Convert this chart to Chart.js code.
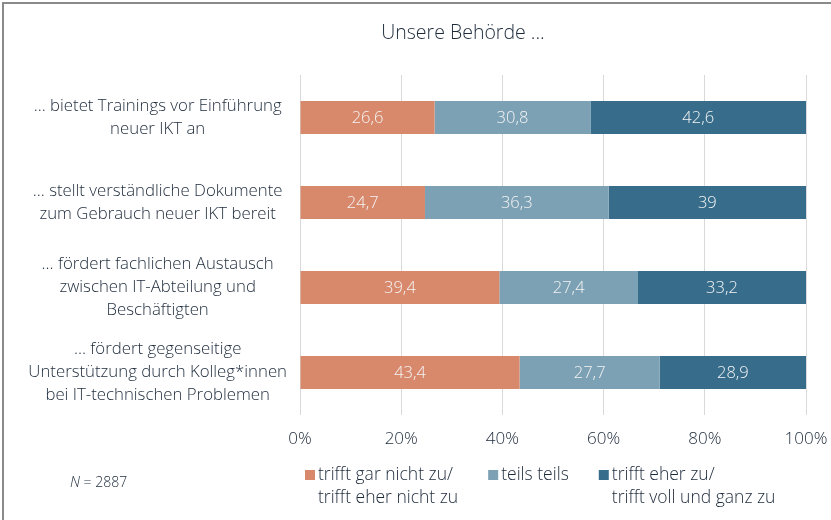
<!DOCTYPE html>
<html>
<head>
<meta charset="utf-8">
<script src="https://cdn.jsdelivr.net/npm/chart.js@4.4.1/dist/chart.umd.min.js"></script>
<style>
  html, body { margin: 0; padding: 0; background: #fff; }
  #wrap { width: 831px; height: 520px; }
</style>
</head>
<body>
<div id="wrap"><canvas id="barChart" width="831" height="520"></canvas></div>
<script>
// --- data ---
const categories = [
  ['… bietet Trainings vor Einführung', 'neuer IKT an'],
  ['… stellt verständliche Dokumente', 'zum Gebrauch neuer IKT bereit'],
  ['… fördert fachlichen Austausch', 'zwischen IT-Abteilung und', 'Beschäftigten'],
  ['… fördert gegenseitige', 'Unterstützung durch Kolleg*innen', 'bei IT-technischen Problemen']
];
const seriesNames = [
  ['trifft gar nicht zu/', 'trifft eher nicht zu'],
  ['teils teils'],
  ['trifft eher zu/', 'trifft voll und ganz zu']
];
const disagreeValues = [26.6, 24.7, 39.4, 43.4];
const neutralValues = [30.8, 36.3, 27.4, 27.7];
const agreeValues = [42.6, 39, 33.2, 28.9];
const tickValues = [0, 20, 40, 60, 80, 100];
const chartTitle = 'Unsere Behörde ...';
const sampleSize = 2887;

const FONT = '"Open Sans", sans-serif';
const TEXT = '#1c2a3a';
const colors = ['#D8896C', '#7CA1B4', '#376D8B'];

const commaNum = v => String(v).replace('.', ',');

// frame + title + note
const decorPlugin = {
  id: 'decor',
  beforeDraw(chart) {
    const ctx = chart.ctx;
    ctx.save();
    ctx.fillStyle = '#fff';
    ctx.fillRect(0, 0, chart.width, chart.height);
    ctx.strokeStyle = '#8a8a8a';
    ctx.lineWidth = 2;
    ctx.beginPath();
    ctx.moveTo(3, chart.height);
    ctx.lineTo(3, 3);
    ctx.lineTo(chart.width, 3);
    ctx.stroke();
    ctx.restore();
  },
  afterDraw(chart) {
    const ctx = chart.ctx;
    ctx.save();
    ctx.fillStyle = TEXT;
    ctx.textBaseline = 'middle';
    ctx.textAlign = 'center';
    ctx.font = '300 19.5px ' + FONT;
    ctx.fillText(chartTitle, 463, 33);

    // N = 2887
    ctx.textAlign = 'left';
    ctx.font = 'italic 300 14.5px ' + FONT;
    ctx.fillText('N', 70, 483);
    const nw = ctx.measureText('N').width;
    ctx.font = '300 14px ' + FONT;
    ctx.fillText(' = ' + sampleSize, 70 + nw, 483);
    ctx.restore();
  }
};

// value labels inside the segments
const valueLabelPlugin = {
  id: 'valueLabels',
  afterDatasetsDraw(chart) {
    const ctx = chart.ctx;
    ctx.save();
    ctx.fillStyle = '#f4f4f4';
    ctx.font = '300 16.5px ' + FONT;
    ctx.textAlign = 'center';
    ctx.textBaseline = 'middle';
    chart.data.datasets.forEach((ds, i) => {
      const meta = chart.getDatasetMeta(i);
      meta.data.forEach((bar, j) => {
        const cx = (bar.x + bar.base) / 2;
        ctx.fillText(commaNum(ds.data[j]), cx, bar.y + 1);
      });
    });
    ctx.restore();
  }
};

// multi-line legend below the axis
const legendPlugin = {
  id: 'multiLegend',
  afterDraw(chart) {
    const ctx = chart.ctx;
    ctx.save();
    ctx.font = '300 17.5px ' + FONT;
    ctx.textBaseline = 'middle';
    ctx.textAlign = 'left';
    let x = chart.chartArea.left + 5;
    const y = 475;
    chart.data.datasets.forEach((ds, i) => {
      ctx.fillStyle = ds.backgroundColor;
      ctx.fillRect(x, y - 5, 10, 10);
      ctx.fillStyle = TEXT;
      let w = 0;
      ds.legendLines.forEach((line, k) => {
        ctx.fillText(line, x + 13, y + k * 23);
        w = Math.max(w, ctx.measureText(line).width);
      });
      x += 13 + w + 30;
    });
    ctx.restore();
  }
};

const ctx = document.getElementById('barChart').getContext('2d');
new Chart(ctx, {
  type: 'bar',
  data: {
    labels: categories,
    datasets: [
      { label: seriesNames[0].join(' '), legendLines: seriesNames[0], data: disagreeValues, backgroundColor: colors[0] },
      { label: seriesNames[1].join(' '), legendLines: seriesNames[1], data: neutralValues, backgroundColor: colors[1] },
      { label: seriesNames[2].join(' '), legendLines: seriesNames[2], data: agreeValues, backgroundColor: colors[2] }
    ]
  },
  options: {
    indexAxis: 'y',
    responsive: false,
    animation: false,
    barPercentage: 0.39,
    categoryPercentage: 1,
    layout: { padding: { top: 75, right: 25, left: 0, bottom: 0 } },
    plugins: {
      legend: { display: false },
      title: { display: false },
      tooltip: { enabled: false }
    },
    scales: {
      x: {
        stacked: true,
        min: 0,
        max: 100,
        afterBuildTicks: scale => { scale.ticks = tickValues.map(v => ({ value: v })); },
        afterFit: scale => {
          scale.height = 105;
          scale.paddingLeft = 0;
          scale.paddingRight = 0;
        },
        ticks: {
          padding: 14,
          color: TEXT,
          font: { family: FONT, size: 17, weight: 300 },
          callback: v => v + '%'
        },
        grid: { color: '#d9d9d9', lineWidth: 1, drawTicks: false },
        border: { display: false }
      },
      y: {
        stacked: true,
        afterFit: scale => { scale.width = 300; },
        ticks: {
          padding: 13,
          crossAlign: 'center',
          color: TEXT,
          font: { family: FONT, size: 16.8, weight: 300, lineHeight: 1.37 }
        },
        grid: { display: false, drawTicks: false },
        border: { display: false }
      }
    }
  },
  plugins: [decorPlugin, valueLabelPlugin, legendPlugin]
});
</script>
</body>
</html>
